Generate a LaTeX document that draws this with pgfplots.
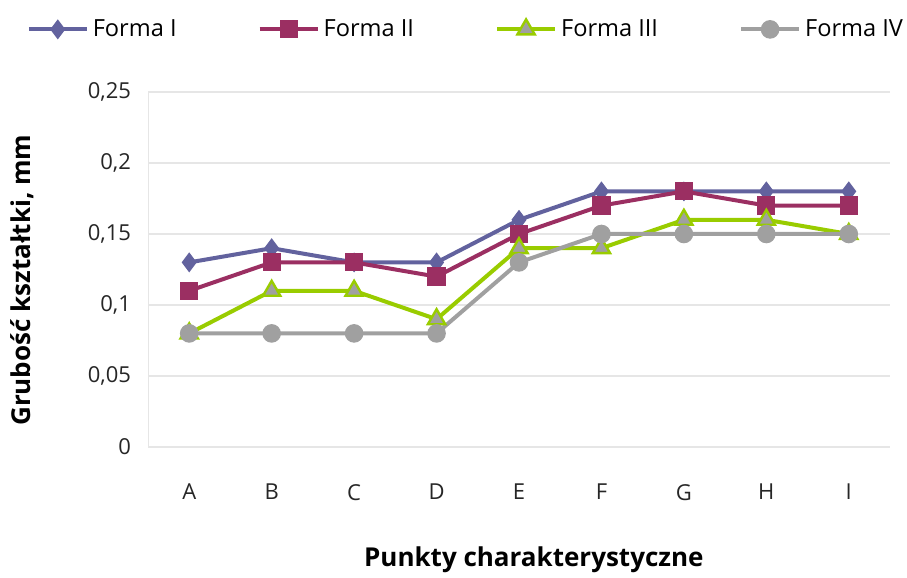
\documentclass[border=0pt]{standalone}
\usepackage{pgfplots}
\pgfplotsset{compat=1.18}
\usepackage{fontspec}
\setmainfont{Open Sans}
\definecolor{cI}{RGB}{98,98,158}
\definecolor{cII}{RGB}{155,47,98}
\definecolor{cIII}{RGB}{153,204,0}
\definecolor{cIV}{RGB}{160,160,160}
\definecolor{gridc}{RGB}{230,230,230}
\begin{document}
\begin{tikzpicture}
\begin{axis}[
  scale only axis,
  width=371pt, height=177.5pt,
  xmin=-0.5, xmax=8.5,
  ymin=0, ymax=0.25,
  xtick={0,...,8},
  xticklabels={A,B,C,D,E,F,G,H,I},
  ytick={0,0.05,0.1,0.15,0.2,0.25},
  yticklabels={0,{0,05},{0,1},{0,15},{0,2},{0,25}},
  axis lines=left,
  axis line style={gridc, -},
  ymajorgrids,
  grid style={gridc, line width=0.6pt},
  major tick length=0pt,
  tick label style={font=\fontsize{11}{13}\selectfont, text=black!85},
  xticklabel style={yshift=-15pt},
  yticklabel style={xshift=-5pt},
  xlabel={\textbf{Punkty charakterystyczne}},
  ylabel={\textbf{Grubość kształtki, mm}},
  label style={font=\fontsize{13}{15}\selectfont},
  xlabel style={at={(axis description cs:0.52,-0.318)}, anchor=center},
  ylabel style={at={(axis description cs:-0.17,0.47)}, anchor=center},
  legend columns=4,
  legend style={at={(axis description cs:-0.172,1.228)}, anchor=north west, draw=none, font=\fontsize{11.8}{14}\selectfont, /tikz/every even column/.append style={column sep=38.5pt}},
  legend image code/.code={\draw[#1, mark repeat=2, mark phase=2] plot coordinates {(0pt,0pt) (14.5pt,0pt) (29pt,0pt)};},
  every axis plot/.append style={line width=2pt},
]
\addplot[cI, mark=diamond*, mark size=4.6pt, mark options={solid, fill=cI, draw=cI, line width=0.5pt}] coordinates {
(0,0.13) (1,0.14) (2,0.13) (3,0.13) (4,0.16) (5,0.18) (6,0.18) (7,0.18) (8,0.18)};
\addlegendentry{Forma I}
\addplot[cII, mark=square*, mark size=4.3pt, mark options={solid, fill=cII, draw=cII, line width=0.5pt}] coordinates {
(0,0.11) (1,0.13) (2,0.13) (3,0.12) (4,0.15) (5,0.17) (6,0.18) (7,0.17) (8,0.17)};
\addlegendentry{Forma II}
\addplot[cIII, mark=triangle*, mark size=5pt, mark options={solid, fill=cIV, draw=cIII, line width=1.2pt}] coordinates {
(0,0.08) (1,0.11) (2,0.11) (3,0.09) (4,0.14) (5,0.14) (6,0.16) (7,0.16) (8,0.15)};
\addlegendentry{Forma III}
\addplot[cIV, mark=*, mark size=4.4pt, mark options={solid, fill=cIV, draw=cIV, line width=0.5pt}] coordinates {
(0,0.08) (1,0.08) (2,0.08) (3,0.08) (4,0.13) (5,0.15) (6,0.15) (7,0.15) (8,0.15)};
\addlegendentry{Forma IV}
\end{axis}
\pgfresetboundingbox
\path ([shift={(-74pt,-65pt)}]current axis.south west) rectangle ([shift={(8.5pt,46pt)}]current axis.north east);
\end{tikzpicture}
\end{document}
